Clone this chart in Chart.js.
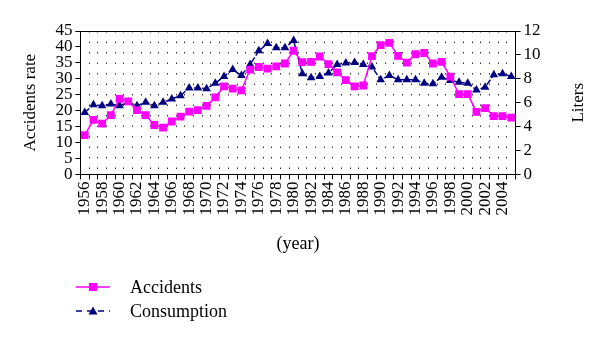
<!DOCTYPE html>
<html>
<head>
<meta charset="utf-8">
<script src="https://cdn.jsdelivr.net/npm/chart.js@4.4.0/dist/chart.umd.min.js"></script>
<style>
html, body { margin: 0; padding: 0; background: #fff; }
#wrap { position: relative; width: 600px; height: 342px; }
#legend { position: absolute; left: 76px; top: 275px; font-family: "Liberation Serif", serif; font-size: 18px; color: #000; }
#legend .row { height: 24px; display: flex; align-items: center; }
#legend svg { margin-right: 20px; }
</style>
</head>
<body>
<div id="wrap">
  <canvas id="chart" width="600" height="342"></canvas>
  <div id="legend"></div>
</div>
<script>
const years = ['1956', '1957', '1958', '1959', '1960', '1961', '1962', '1963', '1964', '1965',
    '1966', '1967', '1968', '1969', '1970', '1971', '1972', '1973', '1974', '1975',
    '1976', '1977', '1978', '1979', '1980', '1981', '1982', '1983', '1984', '1985',
    '1986', '1987', '1988', '1989', '1990', '1991', '1992', '1993', '1994', '1995',
    '1996', '1997', '1998', '1999', '2000', '2001', '2002', '2003', '2004', '2005'];

// accidents rate (left axis)
const accidents = [12.3, 17.1, 15.9, 18.6, 23.7, 22.9, 20.2, 18.6, 15.5, 14.7,
    16.6, 18.1, 19.7, 20.2, 21.5, 24.2, 27.6, 26.9, 26.4, 32.9,
    33.7, 33.2, 33.9, 34.8, 38.8, 35.2, 35.3, 37.0, 34.6, 32.0,
    29.6, 27.6, 27.9, 37.1, 40.6, 41.3, 37.2, 35.1, 37.7, 38.1,
    34.8, 35.3, 30.7, 25.2, 25.2, 19.6, 20.8, 18.3, 18.3, 17.8];

// consumption in liters (right axis)
const consumption = [5.18, 5.83, 5.75, 5.89, 5.75, 6.03, 5.75, 6.03, 5.75, 6.03,
    6.31, 6.59, 7.24, 7.24, 7.16, 7.63, 8.2, 8.77, 8.28, 9.2,
    10.34, 10.96, 10.6, 10.6, 11.2, 8.43, 8.09, 8.2, 8.48, 9.19,
    9.33, 9.36, 9.19, 8.99, 7.92, 8.28, 7.92, 7.92, 7.92, 7.63,
    7.58, 8.14, 7.86, 7.72, 7.63, 7.07, 7.3, 8.34, 8.43, 8.2];

const leftTitle = 'Accidents rate';
const rightTitle = 'Liters';
const xTitle = '(year)';

const serif = '"Liberation Serif", "Times New Roman", serif';

const frameAndTitle = {
    id: 'frameAndTitle',
    beforeDatasetsDraw(chart) {
        const ctx = chart.ctx;
        const a = chart.chartArea;
        ctx.save();
        ctx.strokeStyle = '#000';
        ctx.lineWidth = 1;
        ctx.beginPath();
        ctx.moveTo(a.left, Math.round(a.top) + 0.5);
        ctx.lineTo(a.right, Math.round(a.top) + 0.5);
        ctx.stroke();
        ctx.restore();
    },
    afterDraw(chart) {
        // right title reads bottom to top like the left one
        const s = chart.scales.y2;
        const ctx = chart.ctx;
        ctx.save();
        ctx.font = '17px ' + serif;
        ctx.fillStyle = '#000';
        ctx.translate(s.right - 14, (s.top + s.bottom) / 2);
        ctx.rotate(-Math.PI / 2);
        ctx.textAlign = 'center';
        ctx.textBaseline = 'middle';
        ctx.fillText(s.options.title.text, 0, 0);
        ctx.restore();
    }
};

const ctx = document.getElementById('chart').getContext('2d');

const data = {
    labels: years,
    datasets: [{
        label: 'Accidents',
        data: accidents,
        yAxisID: 'y',
        borderColor: '#ff00ff',
        backgroundColor: '#ff00ff',
        borderWidth: 1.5,
        pointStyle: 'rect',
        pointRadius: 5.5,
        pointBorderWidth: 0,
        tension: 0
    }, {
        label: 'Consumption',
        data: consumption,
        yAxisID: 'y2',
        borderColor: '#000080',
        backgroundColor: '#000080',
        borderWidth: 1.5,
        borderDash: [6, 2],
        pointStyle: 'triangle',
        pointRadius: 5,
        pointBorderWidth: 0,
        tension: 0
    }]
};

const myChart = new Chart(ctx, {
    type: 'line',
    data: data,
    options: {
        responsive: false,
        animation: false,
        layout: {
            padding: { top: 31, left: 20, right: 7, bottom: 87 }
        },
        plugins: {
            legend: { display: false },
            tooltip: { enabled: false }
        },
        scales: {
            x: {
                offset: true,
                grid: {
                    offset: true,
                    color: 'rgba(0,0,0,0.8)',
                    lineWidth: 1,
                    tickColor: '#000',
                    tickLength: 5
                },
                border: { color: '#000', width: 1, dash: [1.5, 9] },
                ticks: {
                    autoSkip: false,
                    minRotation: 90,
                    maxRotation: 90,
                    padding: 2,
                    color: '#000',
                    font: { family: serif, size: 17 },
                    callback: function(value, index) {
                        return index % 2 === 0 ? this.getLabelForValue(value) : '';
                    }
                },
                title: {
                    display: true,
                    text: xTitle,
                    color: '#000',
                    padding: { top: 16, bottom: 0 },
                    font: { family: serif, size: 18 }
                }
            },
            y: {
                position: 'left',
                min: 0,
                max: 45,
                grid: { drawOnChartArea: false, tickLength: 5, tickColor: '#000' },
                border: { color: '#000', width: 1 },
                ticks: {
                    stepSize: 5,
                    autoSkip: false,
                    padding: 3,
                    color: '#000',
                    font: { family: serif, size: 17 }
                },
                title: {
                    display: true,
                    text: leftTitle,
                    color: '#000',
                    padding: { top: 0, bottom: 12 },
                    font: { family: serif, size: 17 }
                }
            },
            y2: {
                position: 'right',
                min: 0,
                max: 12,
                grid: { drawOnChartArea: false, tickLength: 5, tickColor: '#000' },
                border: { color: '#000', width: 1 },
                ticks: {
                    stepSize: 2,
                    autoSkip: false,
                    padding: 3,
                    color: '#000',
                    font: { family: serif, size: 17 }
                },
                title: {
                    display: true,
                    text: rightTitle,
                    color: 'rgba(0,0,0,0)',
                    padding: { top: 25, bottom: 4 },
                    font: { family: serif, size: 17 }
                }
            }
        }
    },
    plugins: [frameAndTitle]
});

// legend below the chart, line plus marker as in the original
const legendEl = document.getElementById('legend');
myChart.data.datasets.forEach(function(ds) {
    const row = document.createElement('div');
    row.className = 'row';
    const dash = ds.borderDash ? ' stroke-dasharray="6,5"' : '';
    let marker;
    if (ds.pointStyle === 'rect') {
        marker = '<rect x="13" y="3" width="8" height="8" fill="' + ds.backgroundColor + '"/>';
    } else {
        marker = '<polygon points="17,2.5 21.5,10.5 12.5,10.5" fill="' + ds.backgroundColor + '"/>';
    }
    row.innerHTML = '<svg width="34" height="14"><line x1="0" y1="7" x2="34" y2="7" stroke="' + ds.borderColor +
        '" stroke-width="1.5"' + dash + '/>' + marker + '</svg><span>' + ds.label + '</span>';
    legendEl.appendChild(row);
});
</script>
</body>
</html>
